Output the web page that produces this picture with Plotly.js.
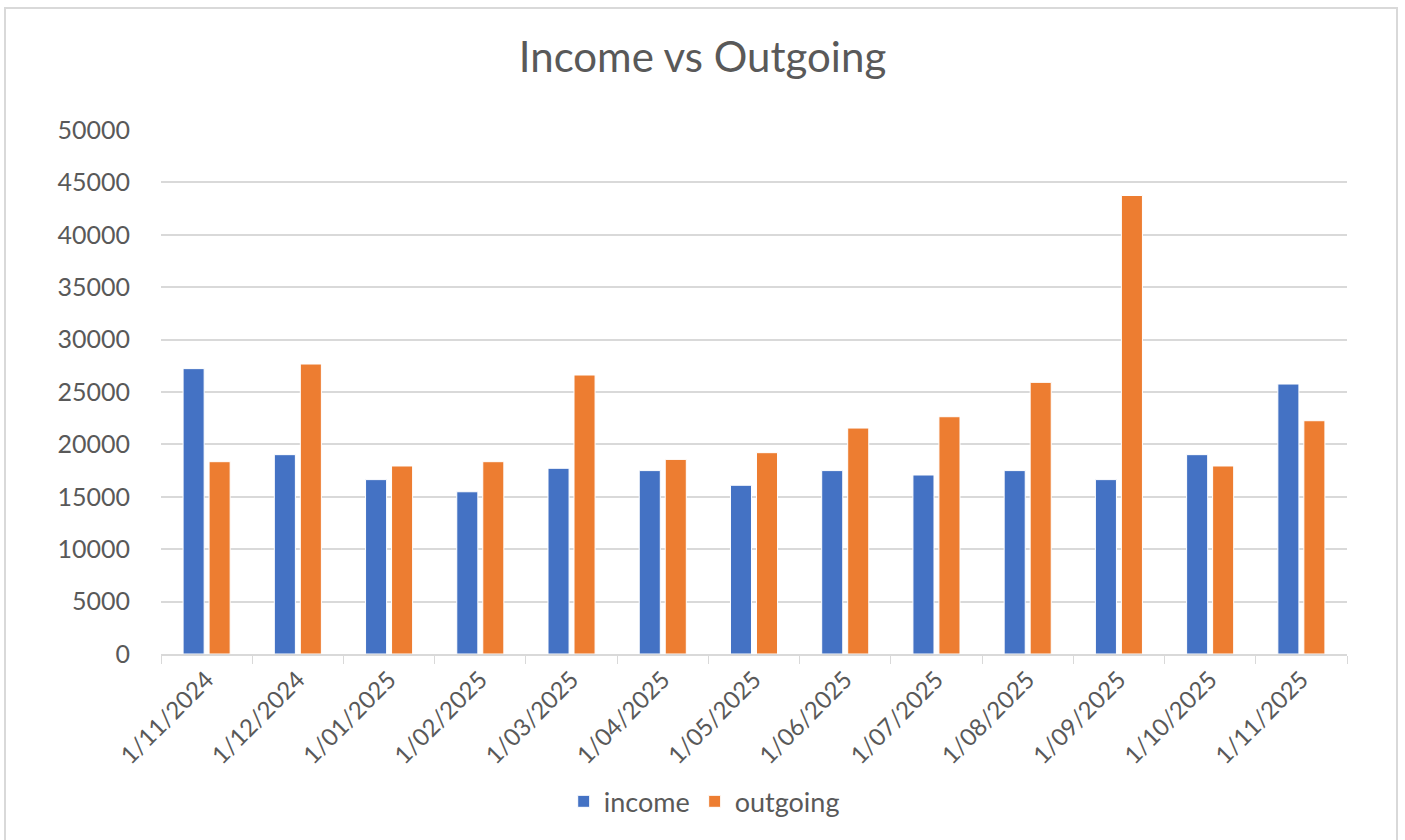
<!DOCTYPE html>
<html>
<head>
<meta charset="utf-8">
<script src="https://cdn.plot.ly/plotly-3.0.1.min.js"></script>
<style>
  html, body { margin: 0; padding: 0; background: #fff; }
  #wrap { position: relative; width: 1405px; height: 840px; }
  #chart { width: 1405px; height: 840px; }
  #frame { position: absolute; left: 4px; top: 7px; width: 1394px; height: 840px; border: 2px solid #d9d9d9; box-sizing: border-box; pointer-events: none; }
</style>
</head>
<body>
<div id="wrap">
  <div id="chart"></div>
  <div id="frame"></div>
</div>
<script>
const categories = ["1/11/2024","1/12/2024","1/01/2025","1/02/2025","1/03/2025","1/04/2025","1/05/2025","1/06/2025","1/07/2025","1/08/2025","1/09/2025","1/10/2025","1/11/2025"];
const income   = [27230, 19020, 16640, 15480, 17720, 17500, 16100, 17500, 17080, 17500, 16640, 19020, 25760];
const outgoing = [18350, 27670, 17940, 18350, 26620, 18570, 19210, 21560, 22640, 25920, 43750, 17940, 22260];
const yTicks = [0, 5000, 10000, 15000, 20000, 25000, 30000, 35000, 40000, 45000, 50000];

const FONT = "Lato, 'Open Sans', sans-serif";
const GREY = "#595959";

const traces = [
  { type: "bar", name: "income", x: categories, y: income,
    marker: { color: "#4472C4", line: { color: "#ffffff", width: 1 } } },
  { type: "bar", name: "outgoing", x: categories, y: outgoing,
    marker: { color: "#ED7D31", line: { color: "#ffffff", width: 1 } } }
];

const layout = {
  width: 1405, height: 840,
  paper_bgcolor: "#ffffff", plot_bgcolor: "#ffffff",
  margin: { l: 161, r: 58, t: 130, b: 186 },
  barmode: "group", bargap: 0.43, bargroupgap: 0.19,
  title: { text: "Income vs Outgoing", x: 0.5, xanchor: "center", y: 0.932, yanchor: "middle",
           xref: "container", font: { family: FONT, size: 42, color: GREY } },
  font: { family: FONT, size: 24, color: GREY },
  xaxis: {
    type: "category", tickangle: -45, tickson: "boundaries", ticks: "outside", ticklen: 8,
    tickcolor: "#d9d9d9", showline: true, linecolor: "#d9d9d9", linewidth: 2,
    showgrid: false, tickfont: { family: FONT, size: 24, color: GREY }
  },
  yaxis: {
    range: [0, 50000], tickvals: yTicks, ticktext: yTicks.map(String),
    showgrid: true, gridcolor: "#d9d9d9", gridwidth: 2, zeroline: false,
    showline: false, ticks: "", ticklabelstandoff: 30,
    tickfont: { family: FONT, size: 25, color: GREY }
  },
  showlegend: true,
  legend: { orientation: "h", x: 0.458, xanchor: "center", y: -0.282, yanchor: "middle",
            font: { family: FONT, size: 27, color: GREY }, itemwidth: 30, traceorder: "normal" }
};

Plotly.newPlot("chart", traces, layout, { displayModeBar: false, staticPlot: true });
</script>
</body>
</html>
